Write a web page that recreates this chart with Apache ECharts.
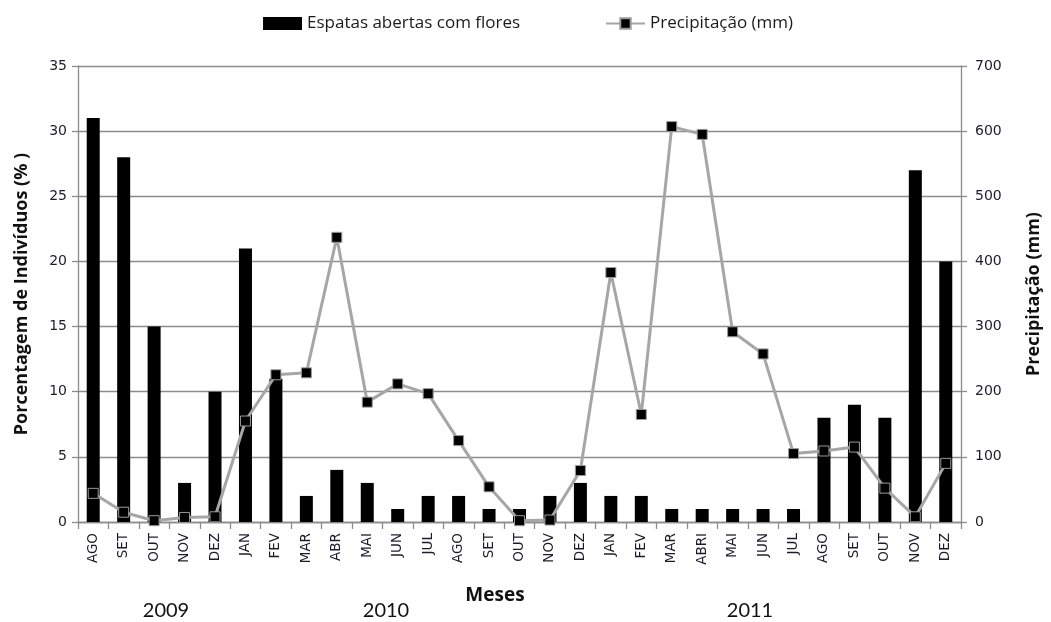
<!DOCTYPE html>
<html>
<head>
<meta charset="utf-8">
<script src="https://cdn.jsdelivr.net/npm/echarts@6/dist/echarts.min.js"></script>
<style>
  html, body { margin: 0; padding: 0; background: #fff; }
  #chart { width: 1051px; height: 622px; }
</style>
</head>
<body>
<div id="chart"></div>
<script>
// Months from Aug 2009 to Dec 2011
const months = ['AGO','SET','OUT','NOV','DEZ','JAN','FEV','MAR','ABR','MAI','JUN','JUL',
                'AGO','SET','OUT','NOV','DEZ','JAN','FEV','MAR','ABRI','MAI','JUN','JUL',
                'AGO','SET','OUT','NOV','DEZ'];
// Share of individuals with open spathes bearing flowers (%)
const espatas = [31, 28, 15, 3, 10, 21, 11, 2, 4, 3, 1, 2,
                 2, 1, 1, 2, 3, 2, 2, 1, 1, 1, 1, 1,
                 8, 9, 8, 27, 20];
// Monthly rainfall (mm)
const precipitacao = [44, 15, 2, 7, 8, 155, 226, 229, 437, 184, 212, 197,
                      125, 54, 2, 3, 79, 383, 165, 607, 595, 292, 258, 105,
                      109, 115, 52, 8, 90];
const leftTicks = [0, 35, 5];
const rightTicks = [0, 700, 100];
const years = [
  { label: '2009', x: 166 },
  { label: '2010', x: 386 },
  { label: '2011', x: 750 }
];

const chart = echarts.init(document.getElementById('chart'));
const tickFont = { fontFamily: 'DejaVu Sans', fontSize: 14, color: '#1c1c2a' };
const axisGray = '#8c8c8c';
const gridLine = { lineStyle: { color: axisGray, width: 1.3 } };
const axisLine = { show: true, lineStyle: { color: axisGray, width: 1.3 } };
const titleFont = { fontFamily: 'Open Sans', fontWeight: 'bold', fontSize: 18, color: '#111' };
const legendText = { fontFamily: 'Open Sans', fontSize: 17, color: '#1a1a1a' };

chart.setOption({
  animation: false,
  legend: [
    {
      top: 15, left: 263, padding: 0, itemGap: 0, itemWidth: 39, itemHeight: 13,
      textStyle: legendText,
      data: [{ name: 'Espatas abertas com flores', icon: 'rect' }]
    },
    {
      top: 15, left: 605, padding: 0, itemGap: 0, itemWidth: 39, itemHeight: 13,
      textStyle: legendText,
      data: [{ name: 'Precipitação (mm)' }]
    }
  ],
  grid: { left: 78, right: 89, top: 66, bottom: 100 },
  xAxis: {
    type: 'category',
    data: months,
    axisLine: axisLine,
    axisTick: { show: true, length: 7, lineStyle: { color: axisGray, width: 1.3 } },
    axisLabel: {
      interval: 0, rotate: 90, margin: 11,
      fontFamily: 'DejaVu Sans', fontSize: 13.5, color: '#1c1c2a'
    }
  },
  yAxis: [
    {
      type: 'value', min: leftTicks[0], max: leftTicks[1], interval: leftTicks[2],
      name: 'Porcentagem de Indivíduos (% )',
      nameLocation: 'middle', nameGap: 47, nameRotate: 90,
      nameTextStyle: titleFont,
      axisLine: axisLine,
      axisTick: { show: true, length: 6, lineStyle: { color: axisGray, width: 1.3 } },
      axisLabel: Object.assign({ margin: 11 }, tickFont),
      splitLine: gridLine
    },
    {
      type: 'value', min: rightTicks[0], max: rightTicks[1], interval: rightTicks[2],
      name: 'Precipitação (mm)',
      nameLocation: 'middle', nameGap: 64, nameRotate: 90,
      nameTextStyle: titleFont,
      axisLine: axisLine,
      axisTick: { show: true, length: 6, lineStyle: { color: axisGray, width: 1.3 } },
      axisLabel: Object.assign({ margin: 14 }, tickFont),
      splitLine: { show: false }
    }
  ],
  series: [
    {
      name: 'Espatas abertas com flores',
      type: 'bar',
      data: espatas,
      barWidth: 13,
      itemStyle: { color: '#000' },
      z: 2
    },
    {
      name: 'Precipitação (mm)',
      type: 'line',
      yAxisIndex: 1,
      data: precipitacao,
      symbol: 'rect',
      symbolSize: 10,
      showAllSymbol: true,
      lineStyle: { color: '#a6a6a6', width: 3 },
      itemStyle: { color: '#000', borderColor: '#9a9a9a', borderWidth: 1 },
      z: 3
    }
  ],
  graphic: [
    {
      type: 'text', x: 495, y: 596,
      style: { text: 'Meses', font: 'bold 19px "Open Sans"', fill: '#111', align: 'center', verticalAlign: 'middle' }
    }
  ].concat(years.map(y => ({
    type: 'text', x: y.x, y: 611,
    style: { text: y.label, font: '20px Lato', fill: '#111', align: 'center', verticalAlign: 'middle' }
  })))
});
</script>
</body>
</html>
